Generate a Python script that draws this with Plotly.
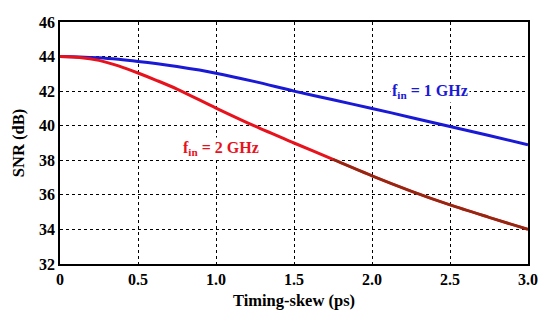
import plotly.graph_objects as go

skew = [0, 0.125, 0.25, 0.375, 0.5, 0.625, 0.75, 1.0, 1.25, 1.5, 1.75, 2.0, 2.25, 2.5, 2.75, 3.0]
snr_1ghz = [44.0, 43.98, 43.93, 43.84, 43.72, 43.58, 43.42, 43.04, 42.55, 42.0, 41.5, 41.0, 40.48, 39.95, 39.43, 38.9]
snr_2ghz = [44.0, 43.95, 43.78, 43.46, 43.05, 42.6, 42.12, 41.02, 39.97, 39.0, 38.05, 37.1, 36.22, 35.42, 34.7, 34.0]
x_ticks = [0, 0.5, 1.0, 1.5, 2.0, 2.5, 3.0]
x_tick_labels = ["0", "0.5", "1.0", "1.5", "2.0", "2.5", "3.0"]
y_ticks = [32, 34, 36, 38, 40, 42, 44, 46]

font = "Liberation Serif, Times New Roman, serif"
blue = "#1a1ad6"
red = "#e8121c"
brown = "#8c2a12"

fig = go.Figure()
fig.add_trace(go.Scatter(x=skew, y=snr_1ghz, mode="lines",
                         line=dict(color=blue, width=3, shape="spline", smoothing=0.8), showlegend=False))
fig.add_trace(go.Scatter(x=skew, y=snr_2ghz, mode="lines",
                         line=dict(color=red, width=3, shape="spline", smoothing=0.8), showlegend=False))
fig.add_trace(go.Scatter(x=skew[10:], y=snr_2ghz[10:], mode="lines",
                         line=dict(color=brown, width=2.5, shape="spline", smoothing=0.8), showlegend=False))

fig.add_annotation(x=2.37, y=42.0, text="f<sub>in</sub> = 1 GHz", showarrow=False,
                   font=dict(family=font, size=16, color=blue, weight="bold"), bgcolor="white")
fig.add_annotation(x=1.03, y=38.7, text="f<sub>in</sub> = 2 GHz", showarrow=False,
                   font=dict(family=font, size=16, color=red, weight="bold"), bgcolor="white")

axis_common = dict(showline=True, mirror=True, linecolor="black", linewidth=1.5,
                   showgrid=True, gridcolor="black", griddash="dot", gridwidth=1,
                   zeroline=False, ticks="",
                   tickfont=dict(family=font, size=16, color="black", weight="bold"))
fig.update_xaxes(range=[0, 3.0], tickvals=x_ticks, ticktext=x_tick_labels,
                 title=dict(text="Timing-skew (ps)", font=dict(family=font, size=16.5, color="black", weight="bold"), standoff=7),
                 **axis_common)
fig.update_yaxes(range=[32, 46], tickvals=y_ticks,
                 title=dict(text="SNR (dB)", font=dict(family=font, size=16.5, color="black", weight="bold"), standoff=10),
                 **axis_common)

fig.update_layout(width=550, height=321, margin=dict(l=60, r=20, t=22, b=57),
                  plot_bgcolor="white", paper_bgcolor="white")
fig.write_html("out.html", config={"displayModeBar": False},
               post_script="document.body.style.margin='0';")
